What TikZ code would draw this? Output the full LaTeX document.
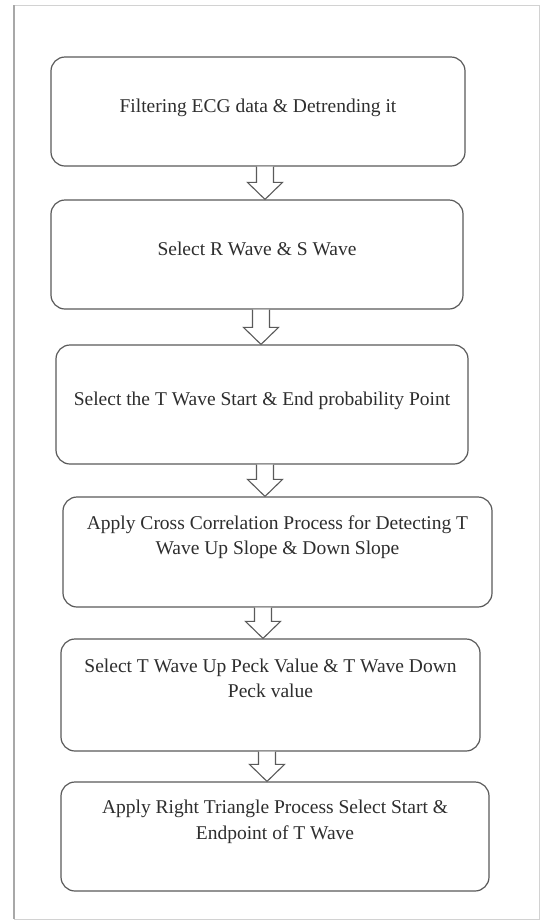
\documentclass[tikz,border=0pt]{standalone}
\usepackage{fontspec}
\setmainfont{Liberation Serif}
\usetikzlibrary{calc}
\definecolor{boxline}{HTML}{5A5A5A}
\definecolor{txt}{HTML}{2E2E2E}
\definecolor{frameline}{HTML}{D2D2D2}
\definecolor{frameleft}{HTML}{A8A8A8}
\newcommand\blockarrow[3]{%
  \coordinate (#1-#2-t) at (#3,0 |- #1.south);
  \coordinate (#1-#2-b) at (#3,0 |- #2.north);
  \draw[blk] ($(#1-#2-t)+(-8.5,0)$) -- ($(#1-#2-b)+(-8.5,-17)$) -- ($(#1-#2-b)+(-17.5,-17)$)
    -- (#1-#2-b) -- ($(#1-#2-b)+(17.5,-17)$) -- ($(#1-#2-b)+(8.5,-17)$) -- ($(#1-#2-t)+(8.5,0)$);
}
\begin{document}
\begin{tikzpicture}[x=1pt,y=-1pt,
  stepbox/.style={draw=boxline, line width=1.2pt, rounded corners=14pt, fill=white,
    text=txt, align=center, inner sep=0pt,
    font=\fontsize{19.5}{25.5}\selectfont},
  oneline/.style={text depth=11pt},
  twoline/.style={text depth=34pt},
  blk/.style={draw=boxline, line width=1.1pt, fill=white, line join=miter}]
\useasboundingbox (0,0) rectangle (540,922);
\fill[white] (0,0) rectangle (540,922);
\draw[frameline, line width=1pt] (14,5) rectangle (539,919);
\draw[frameleft, line width=2pt] (14,5) -- (14,919);

\node[stepbox, oneline, minimum width=414pt, minimum height=109pt] (b1) at (258,111.5)
  {Filtering ECG data \& Detrending it};
\node[stepbox, oneline, minimum width=412pt, minimum height=109pt] (b2) at (257,254.5)
  {Select R Wave \& S Wave};
\node[stepbox, oneline, minimum width=412pt, minimum height=119pt] (b3) at (262,404.5)
  {Select the T Wave Start \& End probability Point};
\node[stepbox, twoline, minimum width=429pt, minimum height=110pt] (b4) at (277.5,552)
  {Apply Cross Correlation Process for Detecting T\\Wave Up Slope \& Down Slope};
\node[stepbox, twoline, minimum width=419pt, minimum height=112pt] (b5) at (270.5,695)
  {Select T Wave Up Peck Value \& T Wave Down\\Peck value};
\node[stepbox, twoline, minimum width=428pt, minimum height=109pt] (b6) at (275,836.5)
  {Apply Right Triangle Process Select Start \&\\Endpoint of T Wave};

\blockarrow{b1}{b2}{265}
\blockarrow{b2}{b3}{261}
\blockarrow{b3}{b4}{265}
\blockarrow{b4}{b5}{263}
\blockarrow{b5}{b6}{267}
\end{tikzpicture}
\end{document}
